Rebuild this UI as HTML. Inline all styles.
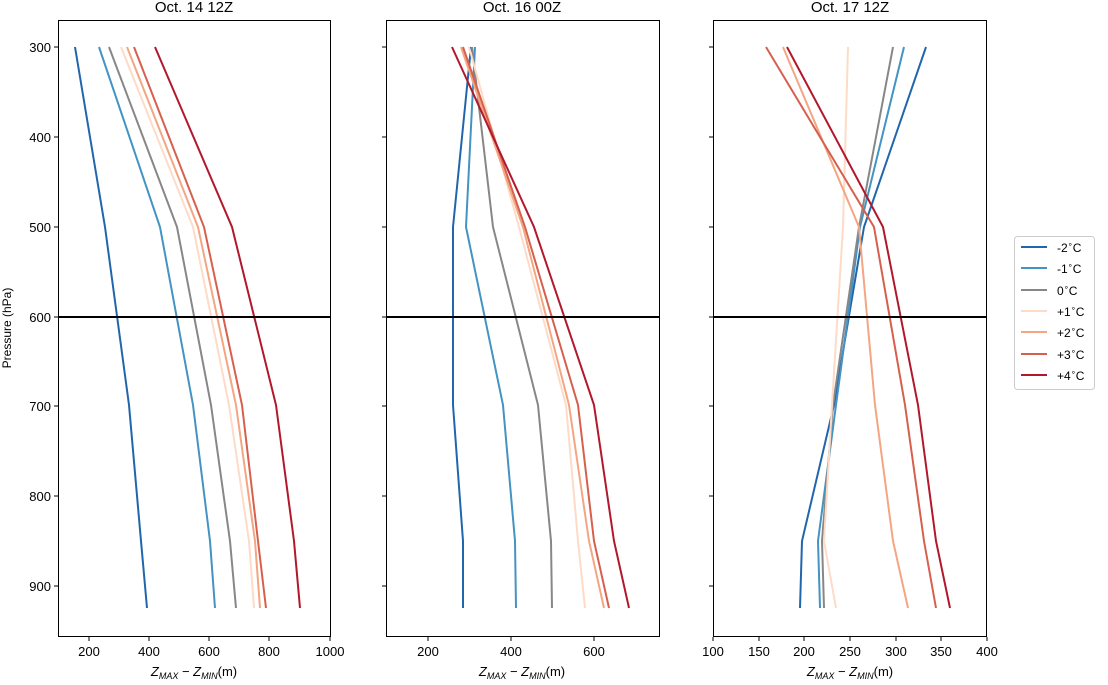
<!DOCTYPE html>
<html><head><meta charset="utf-8"><style>body{margin:0;background:#fff}</style></head><body>
<svg width="1108" height="680" xmlns="http://www.w3.org/2000/svg" font-family="'Liberation Sans','DejaVu Sans',sans-serif" font-size="13">
<rect width="1108" height="680" fill="#fff"/>
<g fill="none" stroke-width="2">
<!-- Panel 1 -->
<polyline stroke="#2166ac" points="75,47 105,227 129,405 141,541 147,608"/>
<polyline stroke="#4393c3" points="99,47 160,227 193,405 210,541 215,608"/>
<polyline stroke="#878787" points="109,47 177,227 211,405 230,541 236,608"/>
<polyline stroke="#fddbc7" points="121,47 193,227 229,405 249,541 254,608"/>
<polyline stroke="#f4a582" points="127,47 198,227 236,405 255,541 260,608"/>
<polyline stroke="#d6604d" points="134,47 204,227 242,405 258,541 266,608"/>
<polyline stroke="#b2182b" points="155,47 232,227 276,405 294,541 300,608"/>
<!-- Panel 2 -->
<polyline stroke="#2166ac" points="471,47 453,227 453,405 463,541 463,608"/>
<polyline stroke="#4393c3" points="475,47 466,227 503,405 515,541 516,608"/>
<polyline stroke="#878787" points="472,47 493,227 538,405 551,541 552,608"/>
<polyline stroke="#fddbc7" points="469,47 519,227 566,405 578,541 585,608"/>
<polyline stroke="#f4a582" points="461,47 523,227 569,405 589,541 604,608"/>
<polyline stroke="#d6604d" points="463,47 525,227 578,405 594,541 609,608"/>
<polyline stroke="#b2182b" points="452,47 534,227 594,405 614,541 629,608"/>
<!-- Panel 3 -->
<polyline stroke="#2166ac" points="926,47 864,227 834,405 802,541 800,608"/>
<polyline stroke="#4393c3" points="904,47 860,227 836,405 818,541 820,608"/>
<polyline stroke="#878787" points="893,47 859,227 833,405 822,541 824,608"/>
<polyline stroke="#fddbc7" points="848,47 843,227 832,405 824,541 836,608"/>
<polyline stroke="#f4a582" points="783,47 859,227 875,405 893,541 908,608"/>
<polyline stroke="#d6604d" points="766,47 874,227 905,405 924,541 936,608"/>
<polyline stroke="#b2182b" points="787,47 883,227 918,405 936,541 950,608"/>
</g>
<g stroke="#000" stroke-width="2">
<line x1="58" y1="317" x2="330" y2="317"/>
<line x1="386" y1="317" x2="659" y2="317"/>
<line x1="713" y1="317" x2="987" y2="317"/>
</g>
<g fill="none" stroke="#000" stroke-width="1">
<rect x="58.5" y="20.5" width="272" height="616"/>
<rect x="386.5" y="20.5" width="273" height="616"/>
<rect x="713.5" y="20.5" width="273" height="616"/>
</g>
<!-- y ticks -->
<g stroke="#000">
<line x1="54" y1="47" x2="58" y2="47"/><line x1="54" y1="137" x2="58" y2="137"/><line x1="54" y1="227" x2="58" y2="227"/><line x1="54" y1="317" x2="58" y2="317"/><line x1="54" y1="406" x2="58" y2="406"/><line x1="54" y1="496" x2="58" y2="496"/><line x1="54" y1="586" x2="58" y2="586"/>
<line x1="382" y1="47" x2="386" y2="47"/><line x1="382" y1="137" x2="386" y2="137"/><line x1="382" y1="227" x2="386" y2="227"/><line x1="382" y1="317" x2="386" y2="317"/><line x1="382" y1="406" x2="386" y2="406"/><line x1="382" y1="496" x2="386" y2="496"/><line x1="382" y1="586" x2="386" y2="586"/>
<line x1="709" y1="47" x2="713" y2="47"/><line x1="709" y1="137" x2="713" y2="137"/><line x1="709" y1="227" x2="713" y2="227"/><line x1="709" y1="317" x2="713" y2="317"/><line x1="709" y1="406" x2="713" y2="406"/><line x1="709" y1="496" x2="713" y2="496"/><line x1="709" y1="586" x2="713" y2="586"/>
<!-- x ticks -->
<line x1="89" y1="637" x2="89" y2="641"/><line x1="149" y1="637" x2="149" y2="641"/><line x1="209" y1="637" x2="209" y2="641"/><line x1="269" y1="637" x2="269" y2="641"/><line x1="330" y1="637" x2="330" y2="641"/>
<line x1="428" y1="637" x2="428" y2="641"/><line x1="511" y1="637" x2="511" y2="641"/><line x1="594" y1="637" x2="594" y2="641"/>
<line x1="713" y1="637" x2="713" y2="641"/><line x1="759" y1="637" x2="759" y2="641"/><line x1="804" y1="637" x2="804" y2="641"/><line x1="850" y1="637" x2="850" y2="641"/><line x1="896" y1="637" x2="896" y2="641"/><line x1="941" y1="637" x2="941" y2="641"/><line x1="987" y1="637" x2="987" y2="641"/>
</g>
<g fill="#000" text-anchor="end">
<text x="51" y="52">300</text><text x="51" y="142">400</text><text x="51" y="232">500</text><text x="51" y="322">600</text><text x="51" y="411">700</text><text x="51" y="501">800</text><text x="51" y="591">900</text>
</g>
<g fill="#000" text-anchor="middle">
<text x="89" y="656">200</text><text x="149" y="656">400</text><text x="209" y="656">600</text><text x="269" y="656">800</text><text x="330" y="656">1000</text>
<text x="428" y="656">200</text><text x="511" y="656">400</text><text x="594" y="656">600</text>
<text x="713" y="656">100</text><text x="759" y="656">150</text><text x="804" y="656">200</text><text x="850" y="656">250</text><text x="896" y="656">300</text><text x="941" y="656">350</text><text x="987" y="656">400</text>
<text x="194" y="12" font-size="15">Oct. 14 12Z</text>
<text x="522" y="12" font-size="15">Oct. 16 00Z</text>
<text x="850" y="12" font-size="15">Oct. 17 12Z</text>
<text x="194" y="676"><tspan font-style="italic">Z</tspan><tspan font-size="9" dy="3" font-style="italic">MAX</tspan><tspan dy="-3"> − </tspan><tspan font-style="italic">Z</tspan><tspan font-size="9" dy="3" font-style="italic">MIN</tspan><tspan dy="-3">(m)</tspan></text>
<text x="522" y="676"><tspan font-style="italic">Z</tspan><tspan font-size="9" dy="3" font-style="italic">MAX</tspan><tspan dy="-3"> − </tspan><tspan font-style="italic">Z</tspan><tspan font-size="9" dy="3" font-style="italic">MIN</tspan><tspan dy="-3">(m)</tspan></text>
<text x="850" y="676"><tspan font-style="italic">Z</tspan><tspan font-size="9" dy="3" font-style="italic">MAX</tspan><tspan dy="-3"> − </tspan><tspan font-style="italic">Z</tspan><tspan font-size="9" dy="3" font-style="italic">MIN</tspan><tspan dy="-3">(m)</tspan></text>
<text transform="translate(11,328) rotate(-90)" font-size="12">Pressure (hPa)</text>
</g>
<!-- legend -->
<rect x="1014.5" y="236.5" width="80" height="153" rx="3" fill="#fff" stroke="#ccc"/>
<g stroke-width="2">
<line x1="1021" y1="247" x2="1047" y2="247" stroke="#2166ac"/>
<line x1="1021" y1="268" x2="1047" y2="268" stroke="#4393c3"/>
<line x1="1021" y1="290" x2="1047" y2="290" stroke="#878787"/>
<line x1="1021" y1="311" x2="1047" y2="311" stroke="#fddbc7"/>
<line x1="1021" y1="332" x2="1047" y2="332" stroke="#f4a582"/>
<line x1="1021" y1="354" x2="1047" y2="354" stroke="#d6604d"/>
<line x1="1021" y1="375" x2="1047" y2="375" stroke="#b2182b"/>
</g>
<g fill="#000" font-size="12">
<text x="1057" y="252">-2<tspan font-size="8" dy="-5">∘</tspan><tspan dy="5">C</tspan></text>
<text x="1057" y="273">-1<tspan font-size="8" dy="-5">∘</tspan><tspan dy="5">C</tspan></text>
<text x="1057" y="295">0<tspan font-size="8" dy="-5">∘</tspan><tspan dy="5">C</tspan></text>
<text x="1057" y="316">+1<tspan font-size="8" dy="-5">∘</tspan><tspan dy="5">C</tspan></text>
<text x="1057" y="337">+2<tspan font-size="8" dy="-5">∘</tspan><tspan dy="5">C</tspan></text>
<text x="1057" y="359">+3<tspan font-size="8" dy="-5">∘</tspan><tspan dy="5">C</tspan></text>
<text x="1057" y="380">+4<tspan font-size="8" dy="-5">∘</tspan><tspan dy="5">C</tspan></text>
</g>
</svg>
</body></html>
